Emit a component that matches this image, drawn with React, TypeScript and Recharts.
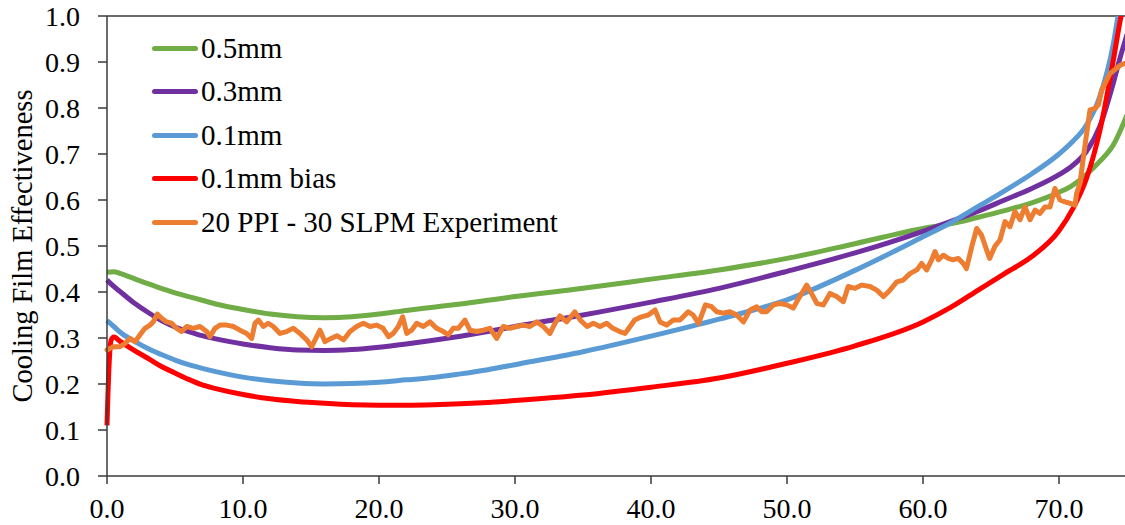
import { LineChart, Line, XAxis, YAxis, Legend, ReferenceLine } from "recharts";

const FONT = '"Liberation Serif", "Times New Roman", serif';

// model curves (mm = film thickness)
const modelX = [0, 0.5, 1, 2, 3, 4, 5, 6, 7, 8, 10, 12, 14, 16, 18, 20, 22, 24, 26, 28, 30, 35, 40, 45, 50, 55, 60, 62, 64, 66, 68, 70, 71, 72, 73, 74, 74.5, 75];
const film05 = [0.443, 0.444, 0.44, 0.429, 0.418, 0.408, 0.398, 0.39, 0.382, 0.374, 0.362, 0.352, 0.346, 0.344, 0.346, 0.352, 0.36, 0.367, 0.374, 0.382, 0.39, 0.408, 0.428, 0.448, 0.473, 0.505, 0.538, 0.548, 0.562, 0.577, 0.594, 0.617, 0.632, 0.655, 0.684, 0.72, 0.75, 0.785];
const film03 = [0.426, 0.412, 0.4, 0.376, 0.356, 0.338, 0.324, 0.314, 0.305, 0.298, 0.287, 0.279, 0.274, 0.273, 0.275, 0.28, 0.287, 0.295, 0.304, 0.314, 0.325, 0.35, 0.378, 0.408, 0.445, 0.485, 0.532, 0.553, 0.575, 0.6, 0.625, 0.655, 0.675, 0.705, 0.76, 0.855, 0.91, 0.96];
const film01 = [0.338, 0.325, 0.312, 0.293, 0.277, 0.264, 0.252, 0.242, 0.234, 0.227, 0.215, 0.207, 0.202, 0.2, 0.201, 0.204, 0.209, 0.214, 0.222, 0.231, 0.242, 0.27, 0.304, 0.341, 0.383, 0.447, 0.52, 0.55, 0.585, 0.62, 0.657, 0.7, 0.727, 0.762, 0.825, 0.94, 1.03, 1.12];

const biasX = [0, 0.15, 0.3, 0.5, 1, 2, 3, 4, 5, 6, 7, 8, 10, 12, 14, 16, 18, 20, 22, 24, 26, 28, 30, 35, 40, 45, 50, 55, 60, 62, 64, 66, 68, 70, 71, 72, 73, 74, 74.5, 75];
const film01Bias = [0.11, 0.24, 0.295, 0.302, 0.292, 0.273, 0.256, 0.238, 0.224, 0.21, 0.198, 0.19, 0.177, 0.168, 0.162, 0.158, 0.155, 0.154, 0.154, 0.155, 0.157, 0.16, 0.164, 0.176, 0.193, 0.213, 0.245, 0.283, 0.335, 0.366, 0.403, 0.44, 0.477, 0.533, 0.58, 0.645, 0.75, 0.905, 0.99, 1.06];

// 20 PPI - 30 SLPM experiment
const expX = [0, 0.46, 0.96, 1.32, 1.69, 2.06, 2.43, 2.79, 3.16, 3.4, 3.7, 4.02, 4.39, 4.75, 5.12, 5.49, 5.86, 6.35, 6.84, 7.33, 7.57, 7.94, 8.31, 8.8, 9.29, 9.78, 10.27, 10.64, 10.88, 11.13, 11.5, 11.86, 12.23, 12.72, 13.21, 13.7, 14.19, 14.68, 15.05, 15.42, 15.66, 16.03, 16.4, 16.9, 17.4, 17.87, 18.36, 18.85, 19.34, 19.83, 20.3, 20.7, 21.05, 21.42, 21.74, 22.04, 22.4, 22.77, 23.26, 23.75, 24.24, 24.73, 25.1, 25.46, 25.83, 26.32, 26.69, 27.18, 27.67, 28.16, 28.65, 29.14, 29.63, 30.1, 30.6, 31.1, 31.6, 32.08, 32.57, 32.94, 33.3, 33.8, 34.4, 34.8, 35.3, 35.76, 36.25, 36.74, 37.2, 37.7, 38.1, 38.46, 38.8, 39.3, 39.8, 40.3, 40.66, 41.15, 41.64, 42.13, 42.74, 43.1, 43.5, 44, 44.46, 44.83, 45.3, 45.8, 46.3, 46.8, 47.28, 47.77, 48.14, 48.5, 49, 49.5, 49.98, 50.46, 50.8, 51.45, 51.8, 52.2, 52.67, 53.16, 53.65, 54.14, 54.5, 55, 55.5, 56.1, 56.6, 57.1, 57.57, 58.07, 58.55, 59.04, 59.54, 59.9, 60.27, 60.64, 60.88, 61.13, 61.5, 61.86, 62.2, 62.6, 62.96, 63.2, 63.58, 63.95, 64.3, 64.68, 64.9, 65.3, 65.66, 66.03, 66.4, 66.76, 67.13, 67.5, 67.87, 68.24, 68.6, 68.97, 69.34, 69.7, 70.07, 70.44, 70.8, 71.18, 71.3, 71.54, 71.9, 72.28, 72.65, 72.9, 73.14, 73.4, 73.75, 74.1, 74.5, 74.85];
const expY = [0.274, 0.281, 0.281, 0.288, 0.299, 0.292, 0.307, 0.321, 0.328, 0.335, 0.352, 0.343, 0.335, 0.332, 0.321, 0.314, 0.325, 0.321, 0.325, 0.314, 0.303, 0.321, 0.328, 0.328, 0.325, 0.317, 0.31, 0.299, 0.332, 0.339, 0.325, 0.332, 0.325, 0.31, 0.314, 0.321, 0.31, 0.296, 0.281, 0.303, 0.317, 0.292, 0.298, 0.305, 0.296, 0.314, 0.325, 0.332, 0.325, 0.328, 0.321, 0.303, 0.31, 0.325, 0.346, 0.31, 0.317, 0.332, 0.325, 0.335, 0.321, 0.314, 0.307, 0.321, 0.321, 0.339, 0.317, 0.314, 0.317, 0.321, 0.299, 0.325, 0.321, 0.325, 0.328, 0.325, 0.335, 0.325, 0.31, 0.332, 0.348, 0.335, 0.357, 0.339, 0.325, 0.332, 0.325, 0.332, 0.321, 0.314, 0.31, 0.325, 0.339, 0.346, 0.35, 0.361, 0.335, 0.328, 0.339, 0.339, 0.357, 0.35, 0.332, 0.372, 0.368, 0.357, 0.354, 0.357, 0.35, 0.335, 0.361, 0.368, 0.357, 0.357, 0.372, 0.375, 0.372, 0.365, 0.383, 0.415, 0.397, 0.375, 0.372, 0.397, 0.39, 0.379, 0.412, 0.408, 0.415, 0.412, 0.404, 0.39, 0.404, 0.422, 0.426, 0.44, 0.448, 0.462, 0.448, 0.47, 0.488, 0.47, 0.48, 0.473, 0.47, 0.473, 0.462, 0.451, 0.498, 0.538, 0.524, 0.491, 0.473, 0.5, 0.513, 0.553, 0.542, 0.575, 0.557, 0.585, 0.557, 0.578, 0.571, 0.585, 0.585, 0.625, 0.6, 0.596, 0.593, 0.589, 0.615, 0.636, 0.716, 0.796, 0.799, 0.807, 0.839, 0.854, 0.875, 0.883, 0.893, 0.897];

const seriesNames = ["0.5mm", "0.3mm", "0.1mm", "0.1mm bias", "20 PPI - 30 SLPM Experiment"];
const xTicks = [0, 10, 20, 30, 40, 50, 60, 70];
const yTicks = [0, 0.1, 0.2, 0.3, 0.4, 0.5, 0.6, 0.7, 0.8, 0.9, 1.0];

const toPoints = (xs: number[], ys: number[]) => xs.map((x, i) => ({ x, y: ys[i] }));

const tickStyle = { fontSize: 28, fill: "#000", fontFamily: FONT };
const axisColor = "#3a3a3a";

function LegendBox({ payload }: any) {
  const items = [...(payload || [])].sort(
    (a: any, b: any) => seriesNames.indexOf(a.value) - seriesNames.indexOf(b.value)
  );
  return (
    <div style={{ fontFamily: FONT, fontSize: 29, color: "#000" }}>
      {items.map((item: any) => (
        <div key={item.value} style={{ display: "flex", alignItems: "center", height: 43.5 }}>
          <span style={{ display: "inline-block", width: 46, height: 5, borderRadius: 3, background: item.color, marginRight: 3 }} />
          <span style={{ lineHeight: 1 }}>{item.value}</span>
        </div>
      ))}
    </div>
  );
}

function YTitle({ viewBox }: any) {
  const cx = viewBox.x + 22;
  const cy = viewBox.y + viewBox.height / 2;
  return (
    <text x={cx} y={cy} transform={`rotate(-90 ${cx} ${cy})`} textAnchor="middle" dominantBaseline="central"
      style={{ fontSize: 28.5, fontFamily: FONT, fill: "#000" }}>
      Cooling Film Effectiveness
    </text>
  );
}

export default function App() {
  return (
    <div style={{ position: "absolute", left: 0, top: 0, width: 1125, height: 525, overflow: "hidden", background: "#fff" }}>
      <LineChart width={1140} height={525} margin={{ top: 16, right: 13, bottom: 0, left: 0 }}>
        <XAxis
          type="number"
          dataKey="x"
          domain={[0, 75]}
          ticks={xTicks}
          tickFormatter={(v) => Number(v).toFixed(1)}
          height={49}
          tickSize={8}
          tickMargin={14}
          tick={tickStyle}
          stroke={axisColor}
          strokeWidth={1.5}
        />
        <YAxis
          type="number"
          domain={[0, 1]}
          allowDataOverflow
          ticks={yTicks}
          tickFormatter={(v) => Number(v).toFixed(1)}
          width={107}
          tickSize={9}
          tickMargin={18}
          tick={tickStyle}
          stroke={axisColor}
          strokeWidth={1.5}
          label={<YTitle />}
        />
        <ReferenceLine y={1} stroke={axisColor} strokeWidth={1.5} />
        <Legend
          layout="vertical"
          align="center"
          verticalAlign="middle"
          wrapperStyle={{ top: 26.5, left: 152, width: "auto" }}
          content={<LegendBox />}
        />
        <Line name={seriesNames[0]} data={toPoints(modelX, film05)} dataKey="y" type="monotone" stroke="#70AD47" strokeWidth={5} dot={false} isAnimationActive={false} />
        <Line name={seriesNames[1]} data={toPoints(modelX, film03)} dataKey="y" type="monotone" stroke="#7030A0" strokeWidth={5} dot={false} isAnimationActive={false} />
        <Line name={seriesNames[2]} data={toPoints(modelX, film01)} dataKey="y" type="monotone" stroke="#5B9BD5" strokeWidth={5} dot={false} isAnimationActive={false} />
        <Line name={seriesNames[3]} data={toPoints(biasX, film01Bias)} dataKey="y" type="monotone" stroke="#FF0000" strokeWidth={5} dot={false} isAnimationActive={false} />
        <Line name={seriesNames[4]} data={toPoints(expX, expY)} dataKey="y" type="linear" stroke="#ED7D31" strokeWidth={5} strokeLinejoin="round" strokeLinecap="round" dot={false} isAnimationActive={false} />
      </LineChart>
    </div>
  );
}
